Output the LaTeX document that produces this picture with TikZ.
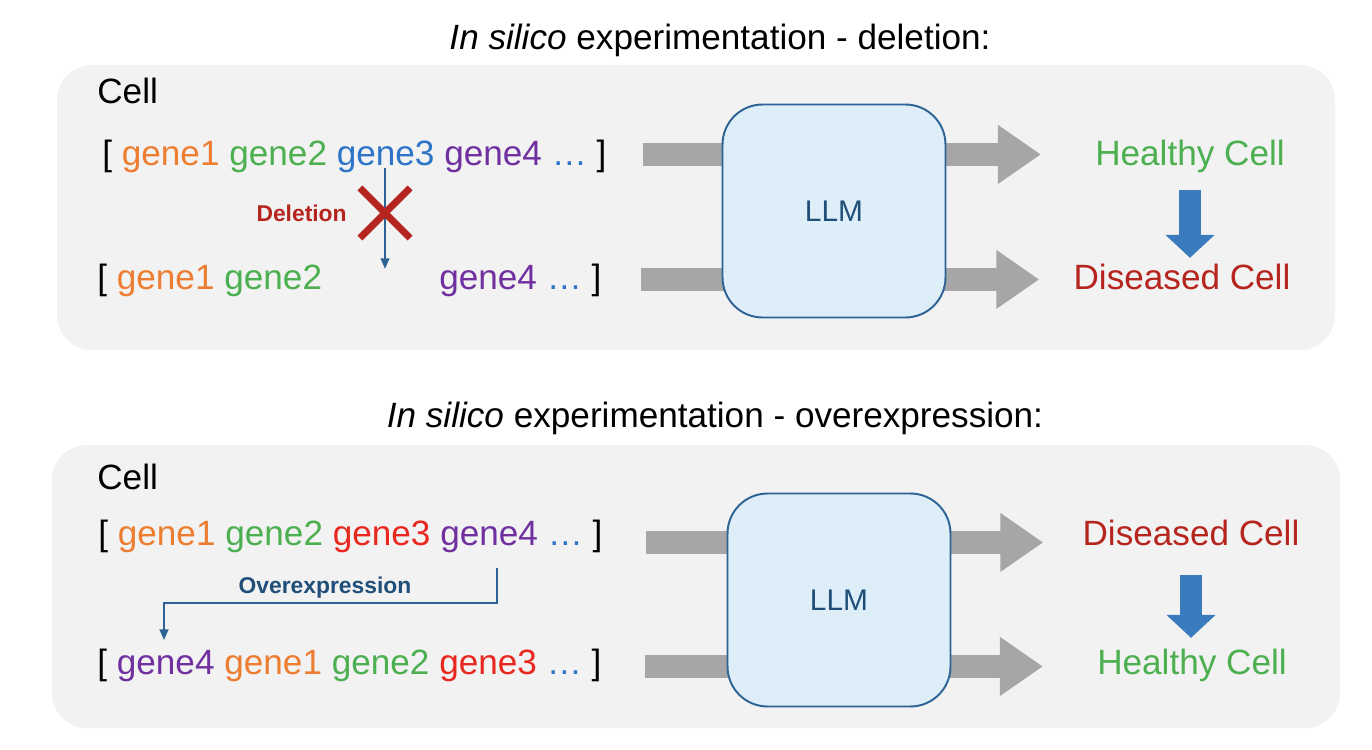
\documentclass[tikz,border=0pt]{standalone}
\usepackage{fontspec}
\setmainfont{Liberation Sans}
\usetikzlibrary{positioning, calc, arrows.meta, shapes.misc}

\definecolor{panelgray}{HTML}{F2F2F2}
\definecolor{llmfill}{HTML}{DEEEF8}
\definecolor{llmline}{HTML}{2E6395}
\definecolor{llmtext}{HTML}{1F4E79}
\definecolor{arrowgray}{HTML}{A6A6A6}
\definecolor{arrowblue}{HTML}{3A7BBE}
\definecolor{gorange}{HTML}{ED7D31}
\definecolor{ggreen}{HTML}{4CAF50}
\definecolor{gblue}{HTML}{2E75C8}
\definecolor{gpurple}{HTML}{7030A0}
\definecolor{gred}{HTML}{E8281E}
\definecolor{dred}{HTML}{B5251E}

\newcommand{\geneA}{\textcolor{gorange}{gene1}}
\newcommand{\geneB}{\textcolor{ggreen}{gene2}}
\newcommand{\geneD}{\textcolor{gpurple}{gene4}}
\newcommand{\genedots}{\textcolor{gblue}{\ldots}}

\begin{document}
\begin{tikzpicture}[x=0.02cm, y=-0.02cm,
    txt/.style={inner sep=0pt, text height=0.73em, text depth=0.21em, font=\fontsize{20}{24}\selectfont},
    panel/.style={fill=panelgray, rounded corners=0.7cm},
    llmbox/.style={draw=llmline, line width=1.1pt, fill=llmfill, rounded corners=0.8cm,
      minimum width=4.46cm, minimum height=4.26cm, text=llmtext, font=\fontsize{17}{20}\selectfont},
    grayarrow/.style={arrowgray, line width=0.46cm, -{Triangle[width=1.12cm, length=0.86cm]}},
    bluearrow/.style={arrowblue, line width=0.44cm, -{Triangle[width=0.96cm, length=0.46cm]}},
    thinarrow/.style={llmline, line width=1pt, -{Triangle[width=5pt, length=6pt]}},
    oplabel/.style={inner sep=0pt, font=\bfseries\fontsize{13}{15}\selectfont}]

  \useasboundingbox (0,0) rectangle (1372,750);

  % panels
  \fill[panel] (57,65) rectangle (1335,350);
  \fill[panel] (52,445) rectangle (1340,728);

  % deletion
  \node[txt, anchor=base] (title1) at (720,50) {\textit{In silico} experimentation - deletion:};
  \node[txt, anchor=base west] (cell1) at (97,104) {Cell};
  \node[txt, anchor=base west] (row1) at (102,165)
    {[ \geneA{} \geneB{} \textcolor{gblue}{gene3} \geneD{} \genedots{} ]};
  \node[txt, anchor=base west] (row2) at (97,289)
    {[ \geneA{} \geneB{} \phantom{gene3} \geneD{} \genedots{} ]};
  \node[txt, anchor=base, text=ggreen] (hc1) at (1190,165) {Healthy Cell};
  \node[txt, anchor=base, text=dred] (dc1) at (1182,289) {Diseased Cell};

  \draw[grayarrow] ($(row1.east)+(36,-6)$) -- ($(row1.east -| hc1.west)+(-54,-6)$);
  \draw[grayarrow] ($(row2.east)+(39,-5)$) -- ($(row2.east -| dc1.west)+(-34,-5)$);
  \node[llmbox] (llm1) at (834,211) {LLM};
  \draw[bluearrow, shorten <=0.41cm, shorten >=0.36cm] (hc1.south) -- (hc1.south |- dc1.north);

  \coordinate (delfrom) at (385,168);
  \draw[thinarrow, shorten >=0.14cm] (delfrom) -- (delfrom |- row2.north);
  \node[cross out, draw=dred, line width=4pt, minimum size=0.86cm, inner sep=0pt] (xmark) at (385,213) {};
  \node[oplabel, text=dred, left=0.26cm of xmark] (dellabel) {Deletion};

  % overexpression
  \node[txt, anchor=base] (title2) at (715,427) {\textit{In silico} experimentation - overexpression:};
  \node[txt, anchor=base west] (cell2) at (97,489) {Cell};
  \node[txt, anchor=base west] (row3) at (98,545)
    {[ \geneA{} \geneB{} \textcolor{gred}{gene3} \geneD{} \genedots{} ]};
  \node[txt, anchor=base west] (row4) at (97,674)
    {[ \geneD{} \geneA{} \geneB{} \textcolor{gred}{gene3} \genedots{} ]};
  \node[txt, anchor=base, text=dred] (dc2) at (1191,545) {Diseased Cell};
  \node[txt, anchor=base, text=ggreen] (hc2) at (1192,674) {Healthy Cell};

  \draw[grayarrow] ($(row3.east)+(43,2)$) -- ($(row3.east -| dc2.west)+(-39,2)$);
  \draw[grayarrow] ($(row4.east)+(43,-3)$) -- ($(row4.east -| hc2.west)+(-54,-3)$);
  \node[llmbox] (llm2) at (839,600) {LLM};
  \draw[bluearrow, shorten <=0.51cm, shorten >=0.46cm] (dc2.south) -- (dc2.south |- hc2.north);

  \coordinate (ovfrom) at (497,568);
  \coordinate (ovto) at (164,640);
  \draw[thinarrow] (ovfrom) -- ++(0,35) -| (ovto);
  \node[oplabel, text=llmtext] (ovlabel) at (325,588) {Overexpression};
\end{tikzpicture}
\end{document}
